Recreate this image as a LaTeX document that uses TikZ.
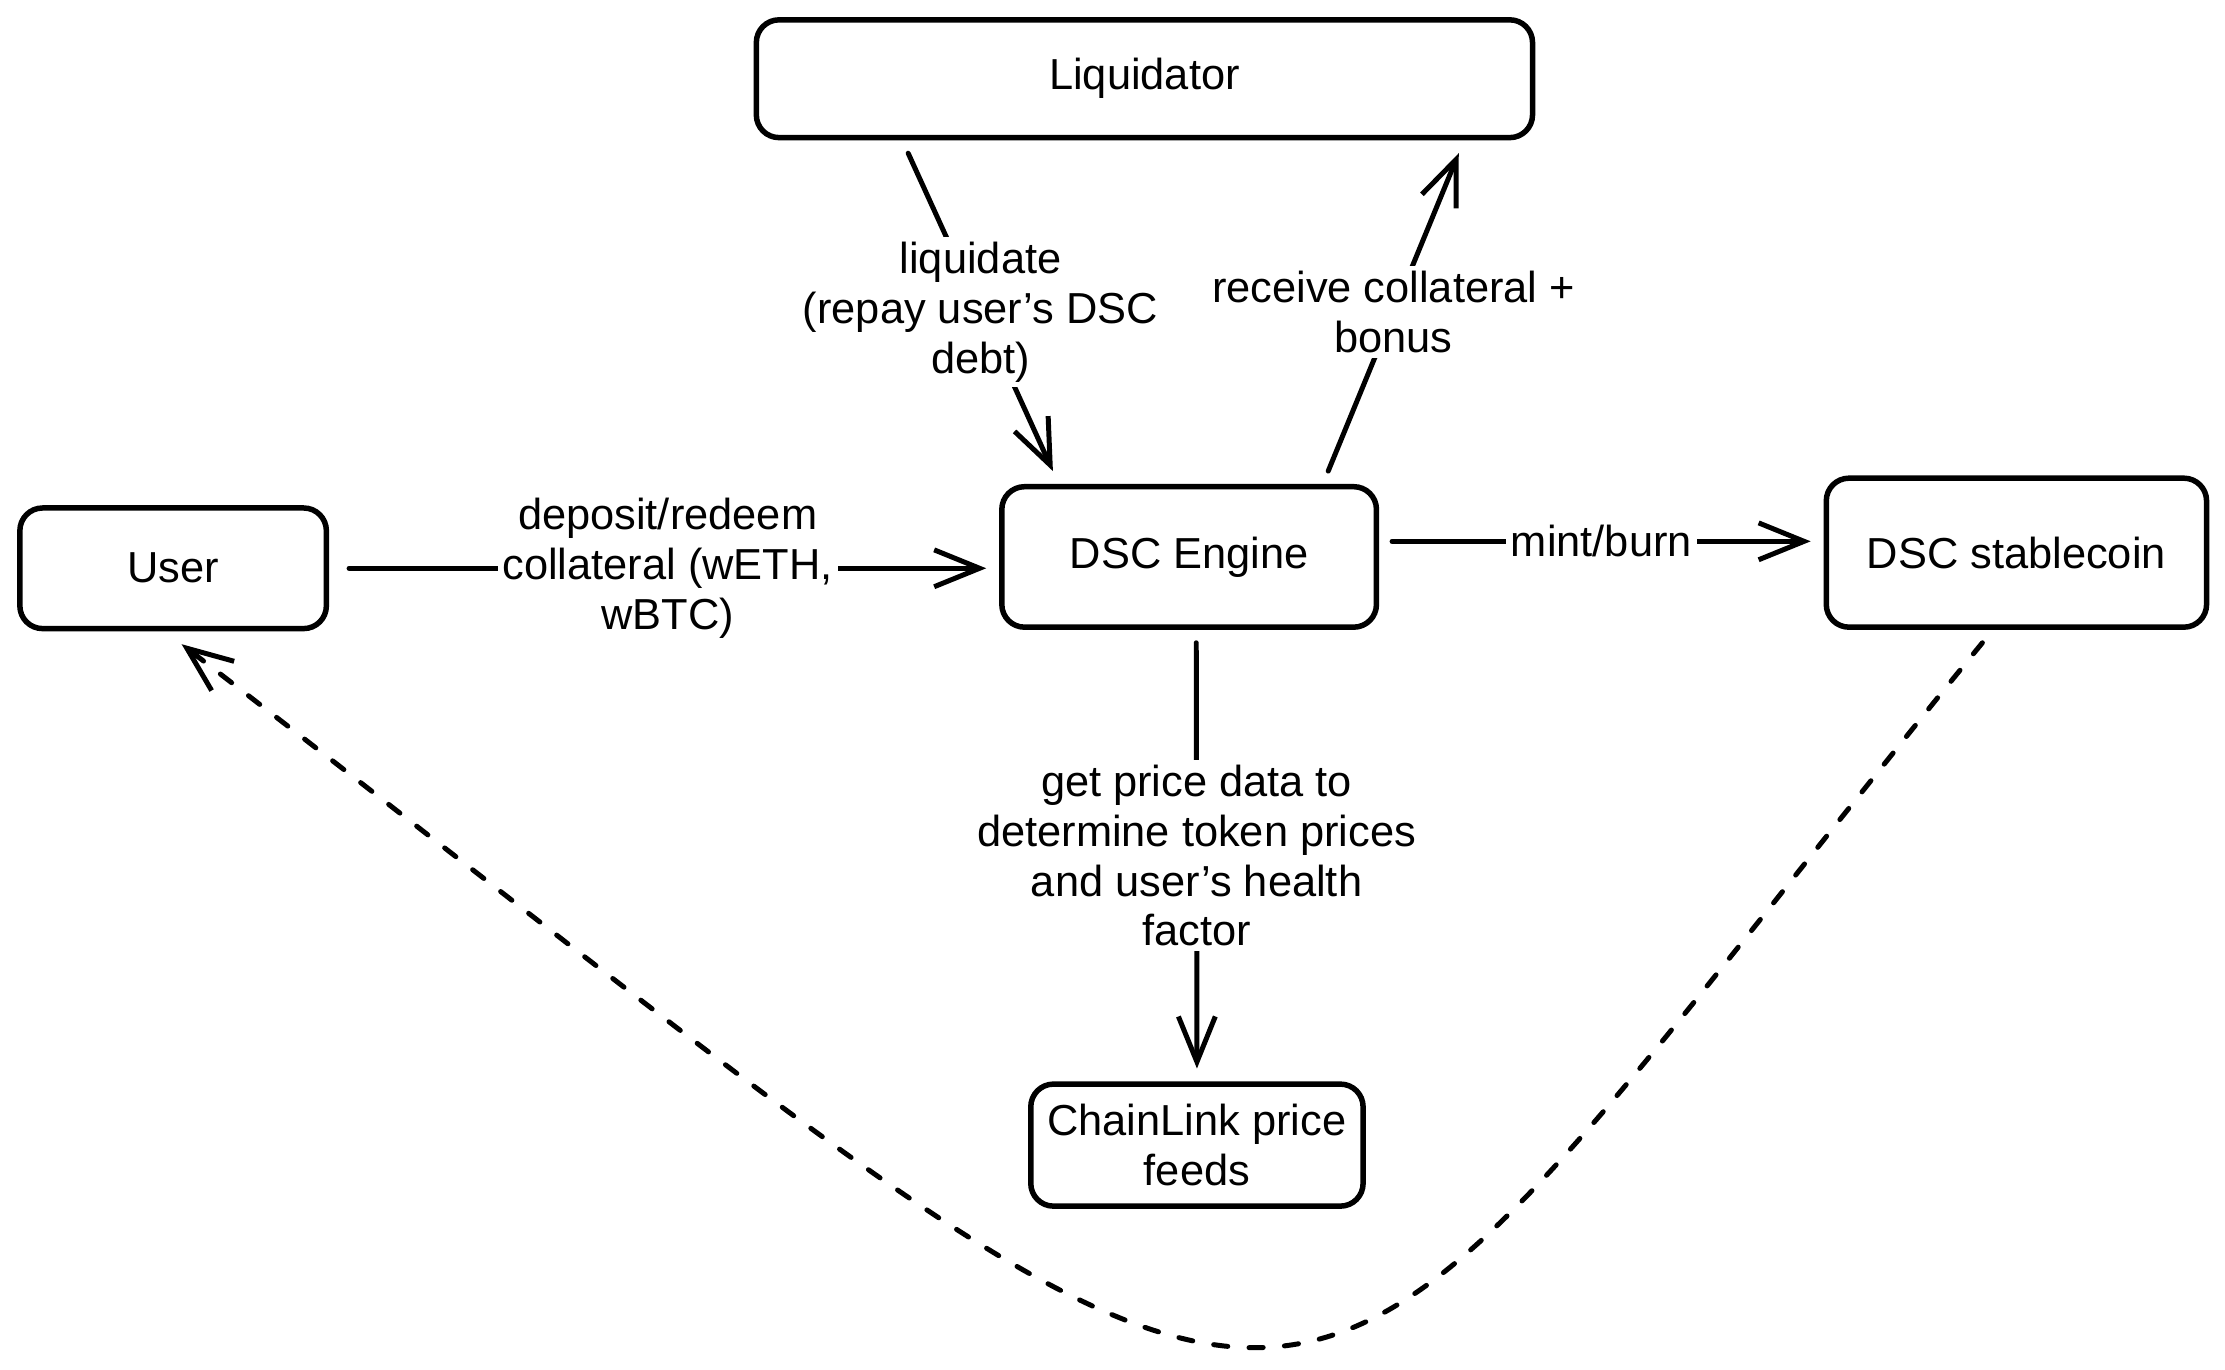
\documentclass[tikz,border=0pt]{standalone}
\usepackage{fontspec}
\setmainfont{Liberation Sans}
\usetikzlibrary{arrows.meta}

\begin{document}
\begin{tikzpicture}[
  box/.style={draw, line width=1.1pt, rounded corners=0.16cm, align=center, outer sep=0.11cm},
  flow/.style={line width=1pt, line cap=round, -{Straight Barb[length=3.2mm,width=2.6mm]}},
  lbl/.style={fill=white, inner sep=1pt, align=center, midway},
  font=\fontsize{8.7pt}{10pt}\selectfont
]
\useasboundingbox (0,0) rectangle (15.68,9.65);

\node[box, minimum width=5.47cm, minimum height=0.83cm] (liq) at (8.065,9.095) {Liquidator};
\node[box, minimum width=2.16cm, minimum height=0.85cm] (user) at (1.22,5.645) {User};
\node[box, minimum width=2.64cm, minimum height=0.99cm] (eng) at (8.38,5.725) {DSC Engine};
\node[box, minimum width=2.68cm, minimum height=1.05cm] (sc) at (14.21,5.755) {DSC stablecoin};
\node[box, minimum width=2.29cm, minimum height=0.86cm] (cl) at (8.435,1.58) {ChainLink price\\feeds};

\draw[flow] ([xshift=0.05cm]user.east) -- (eng.west |- user.east)
  node[lbl] {deposit/redeem\\collateral (wETH,\\wBTC)};
\draw[flow] ([yshift=0.11cm]eng.east) -- ([yshift=0.11cm]eng.east -| sc.west)
  node[lbl] {mint/burn};
\draw[flow] ([xshift=-1.665cm]liq.south) -- ([xshift=-0.96cm]eng.north)
  node[lbl] {liquidate\\(repay user's DSC\\debt)};
\draw[flow] ([xshift=0.98cm]eng.north) -- ([xshift=2.215cm]liq.south)
  node[lbl] {receive collateral +\\bonus};
\draw[flow] ([xshift=0.05cm]eng.south) -- (cl.north)
  node[lbl] {get price data to\\determine token prices\\and user's health\\factor};

% back to the user
\draw[flow, dash pattern=on 0.1cm off 0.15cm] ([xshift=-0.24cm]sc.south)
  .. controls (8.6,-1.45) and (9.93,-1.54) .. ([xshift=0.06cm]user.south);
\end{tikzpicture}
\end{document}
